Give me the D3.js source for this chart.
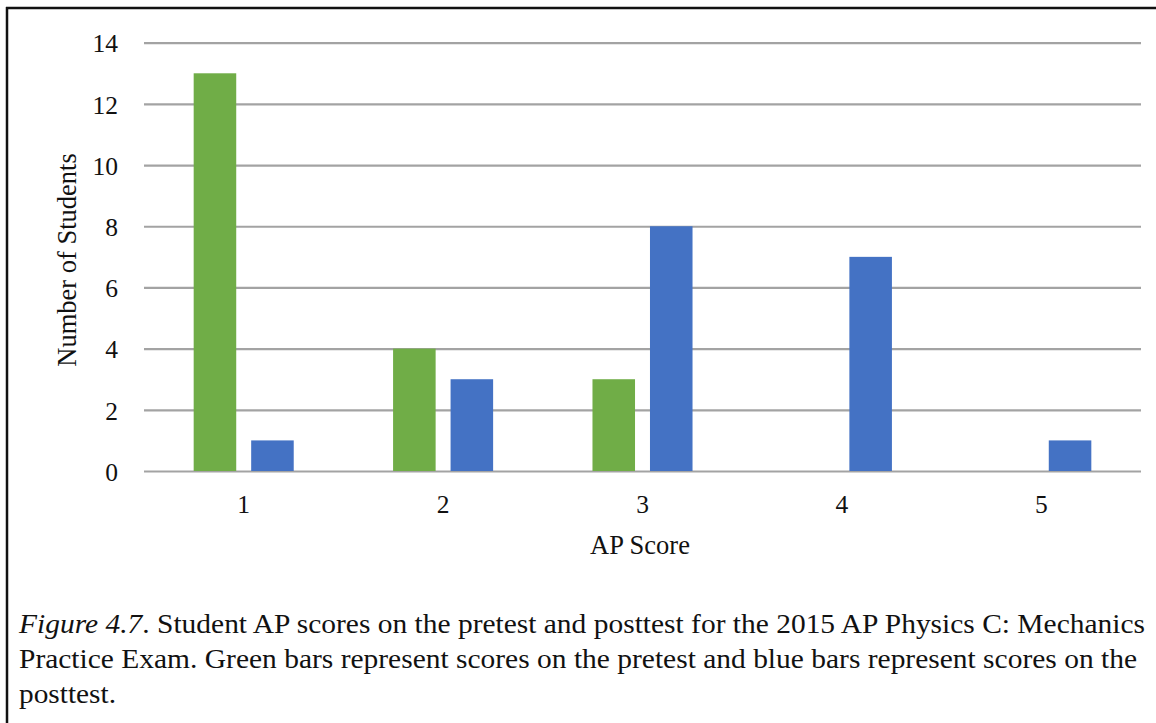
<!DOCTYPE html>
<html>
<head>
<meta charset="utf-8">
<script src="https://cdn.jsdelivr.net/npm/d3@7"></script>
<style>
  html, body { margin: 0; padding: 0; background: #fff; }
  svg { display: block; }
  text { font-family: "Liberation Serif", "Times New Roman", serif; fill: #111; }
</style>
</head>
<body>
<svg id="chart" width="1156" height="723"></svg>
<script>
const categories = ["1", "2", "3", "4", "5"];
const seriesNames = ["Pretest", "Posttest"];
const pretest = [13, 4, 3, 0, 0];
const posttest = [1, 3, 8, 7, 1];
const yTicks = [0, 2, 4, 6, 8, 10, 12, 14];
const colors = ["#70AD47", "#4472C4"];
const yTitle = "Number of Students";
const xTitle = "AP Score";
const captionLines = [
  ["Figure 4.7", ". Student AP scores on the pretest and posttest for the 2015 AP Physics C: Mechanics"],
  ["", "Practice Exam. Green bars represent scores on the pretest and blue bars represent scores on the"],
  ["", "posttest."]
];

const svg = d3.select("#chart");

// frame
svg.append("line").attr("x1", 7).attr("x2", 7).attr("y1", 7).attr("y2", 723)
  .attr("stroke", "#111").attr("stroke-width", 2.5);
svg.append("line").attr("x1", 6).attr("x2", 1156).attr("y1", 8).attr("y2", 8)
  .attr("stroke", "#111").attr("stroke-width", 2.5);

const x0 = d3.scaleBand().domain(categories).range([144, 1141]).paddingInner(0).paddingOuter(0);
const x1 = d3.scaleBand().domain(seriesNames).range([0, x0.bandwidth()]).paddingInner(0.26).paddingOuter(0.864);
const y = d3.scaleLinear().domain([0, 14]).range([471, 42.7]);

// gridlines
const yAxis = d3.axisLeft(y).tickValues(yTicks).tickSize(-(1141 - 144)).tickPadding(26).tickFormat(d3.format("d"));
const gy = svg.append("g").attr("transform", "translate(144,0)").call(yAxis);
gy.select(".domain").remove();
gy.selectAll(".tick line").attr("stroke", "#a3a3a3").attr("stroke-width", 2.2);
gy.selectAll(".tick text").attr("font-size", 25.5).attr("dy", "0.36em").style("fill", "#111");

// bars
const data = categories.map((c, i) => ({ cat: c, values: [pretest[i], posttest[i]] }));
const groups = svg.append("g").selectAll("g").data(data).join("g")
  .attr("transform", d => `translate(${x0(d.cat)},0)`);
groups.selectAll("rect").data(d => d.values.map((v, j) => ({ key: seriesNames[j], v, j })))
  .join("rect")
  .attr("x", d => x1(d.key))
  .attr("width", x1.bandwidth())
  .attr("y", d => y(d.v))
  .attr("height", d => y(0) - y(d.v))
  .attr("fill", d => colors[d.j]);

// x axis labels
const xAxis = d3.axisBottom(x0).tickSize(0).tickPadding(0);
const gx = svg.append("g").attr("transform", "translate(0,513)").call(xAxis);
gx.select(".domain").remove();
gx.selectAll(".tick text").attr("font-size", 25.5).attr("dy", 0).attr("y", 0).style("fill", "#111");

// axis titles
svg.append("text").attr("x", 640).attr("y", 554).attr("text-anchor", "middle")
  .attr("font-size", 26.5).text(xTitle);
svg.append("text").attr("transform", "translate(76,260) rotate(-90)").attr("text-anchor", "middle")
  .attr("font-size", 26.5).text(yTitle);

// caption
const capBase = [633, 668, 703];
const capWidths = [1126, 1118, 97];
captionLines.forEach((ln, i) => {
  const t = svg.append("text").attr("x", 19).attr("y", capBase[i]).attr("font-size", 26.5);
  if (capWidths[i]) t.attr("textLength", capWidths[i]).attr("lengthAdjust", "spacingAndGlyphs");
  if (ln[0]) t.append("tspan").attr("font-style", "italic").text(ln[0]);
  t.append("tspan").text(ln[1]);
});
</script>
</body>
</html>
